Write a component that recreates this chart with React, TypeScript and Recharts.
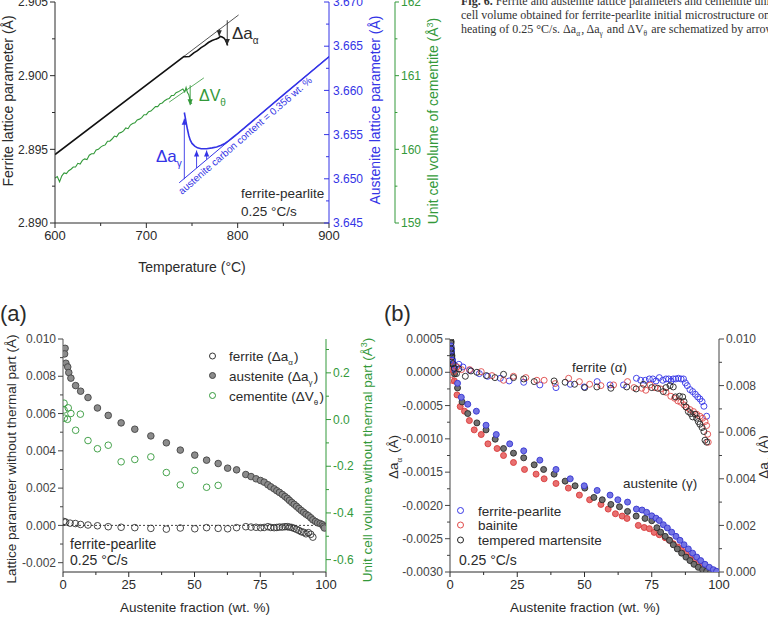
import React from "react";
import { ComposedChart, Line, Scatter, XAxis, YAxis, ReferenceLine } from "recharts";

const FONT = "Arial, 'Liberation Sans', Helvetica, sans-serif";
const INK = "#2b2b2b";
const BLUE = "#3434e6";
const GREEN = "#33993a";
const RED = "#e04a4a";

// ---------- top panel: lattice parameters vs temperature ----------
const tempTicks = [600, 650, 700, 750, 800, 850, 900];
const tempMajor = [600, 700, 800, 900];
const ferTicks = [2.89, 2.8925, 2.895, 2.8975, 2.9, 2.9025, 2.905];
const ferMajor = [2.89, 2.895, 2.9, 2.905];
const ausTicks = [3.645, 3.6475, 3.65, 3.6525, 3.655, 3.6575, 3.66, 3.6625, 3.665, 3.6675, 3.67];
const ausMajor = [3.645, 3.65, 3.655, 3.66, 3.665, 3.67];
const cemTicks = [159, 159.5, 160, 160.5, 161, 161.5, 162];
const cemMajor = [159, 160, 161, 162];

// ferrite lattice parameter (A)
const ferriteT = [600, 741, 743, 747, 749, 752, 756, 760, 764, 768, 772, 776, 779, 781, 783, 785, 786.5, 788, 789];
const ferriteA = [2.89465, 2.9013, 2.90128, 2.9013, 2.9014, 2.90155, 2.9017, 2.9019, 2.90205, 2.90225, 2.90238, 2.90248, 2.90255, 2.90266, 2.90262, 2.90255, 2.90243, 2.90222, 2.90204];
const ferriteTanT = [741, 801];
const ferriteTanA = [2.9013, 2.90412];

// austenite lattice parameter (A)
const austT = [741.6, 742.5, 743.5, 745, 746.5, 748, 750, 753, 756, 760, 766, 772, 777, 782, 786, 790, 795, 800, 850, 900];
const austA = [3.6575, 3.657, 3.6564, 3.6556, 3.6549, 3.6544, 3.654, 3.6537, 3.6535, 3.6534, 3.6534, 3.6535, 3.6536, 3.6538, 3.654, 3.6543, 3.6547, 3.6551, 3.6595, 3.6638];
const austRefT = [736, 900];
const austRefA = [3.64955, 3.66384];

// cementite unit cell volume (A^3)
const cemT = [600, 602.5, 605, 607.5, 610, 612.5, 615, 617.5, 620, 622.5, 625, 627.5, 630, 632.5, 635, 637.5, 640, 642.5, 645, 647.5, 650, 652.5, 655, 657.5, 660, 662.5, 665, 667.5, 670, 672.5, 675, 677.5, 680, 682.5, 685, 687.5, 690, 692.5, 695, 697.5, 700, 702.5, 705, 707.5, 710, 712.5, 715, 717.5, 720, 722.5, 725, 727.5, 730, 732.5, 735, 737.5, 740, 742, 743.5, 745, 746.5, 748, 749, 750];
const cemV = [159.61, 159.63, 159.56, 159.64, 159.68, 159.67, 159.71, 159.73, 159.76, 159.76, 159.81, 159.8, 159.85, 159.87, 159.86, 159.92, 159.94, 159.94, 159.99, 160.0, 160.03, 160.05, 160.06, 160.11, 160.11, 160.14, 160.18, 160.17, 160.22, 160.23, 160.25, 160.29, 160.28, 160.33, 160.35, 160.36, 160.4, 160.41, 160.43, 160.47, 160.47, 160.51, 160.52, 160.55, 160.58, 160.58, 160.62, 160.63, 160.66, 160.68, 160.69, 160.73, 160.73, 160.77, 160.78, 160.8, 160.82, 160.78, 160.84, 160.77, 160.74, 160.66, 160.63, 160.62];
const cemTanT = [725, 763];
const cemTanV = [160.64, 160.97];

// arrows (temperature, from, to)
const ferArrowT = [779.8, 788.6];
const ferArrowFrom = [2.90318, 2.90376];
const ferArrowTo = [2.90268, 2.90208];
const ausArrowT = [741.6, 755, 766];
const ausArrowFrom = [3.64996, 3.65122, 3.65218];
const ausArrowTo = [3.6568, 3.6532, 3.6532];
const cemArrowT = [748];
const cemArrowFrom = [160.87];
const cemArrowTo = [160.6];

// ---------- (a) ----------
const fracTicks = [0, 12.5, 25, 37.5, 50, 62.5, 75, 87.5, 100];
const fracMajor = [0, 25, 50, 75, 100];
const latTicks = [-0.002, -0.001, 0, 0.001, 0.002, 0.003, 0.004, 0.005, 0.006, 0.007, 0.008, 0.009, 0.01];
const latMajor = [-0.002, 0, 0.002, 0.004, 0.006, 0.008, 0.01];
const volTicks = [-0.6, -0.5, -0.4, -0.3, -0.2, -0.1, 0, 0.1, 0.2, 0.3];
const volMajor = [-0.6, -0.4, -0.2, 0, 0.2];

const aFerX = [0.3, 1, 2.7, 4.7, 6.7, 9.5, 13.1, 17.2, 22.1, 27.3, 33.4, 39.3, 44.6, 50.1, 54.6, 59, 62.6, 66, 69.5, 71.5, 73.4, 75.1, 76.5, 77.9, 79, 80.3, 81.3, 82.3, 83.4, 84.4, 85.3, 86.1, 87, 87.9, 88.8, 89.7, 90.6, 91.5, 92.4, 93.3, 94.2, 95, 99];
const aFerY = [0.00021, 0.00018, 0.00012, 0.0001, 0.00005, 0.00002, -0.00002, -0.00007, -0.0001, -0.00012, -0.00016, -0.0002, -0.00014, -0.00018, -0.00012, -0.00016, -0.00018, -0.00012, -0.00007, -0.00009, -0.0001, -0.00012, -0.00011, -0.00007, -0.00011, -0.00012, -0.00011, -0.00009, -0.00009, -0.00007, -0.00007, -0.00009, -0.00011, -0.00016, -0.00021, -0.00027, -0.00034, -0.00037, -0.00045, -0.00039, -0.00048, -0.00063, -0.00002];
const aAusX = [0.8, 0.6, 1.1, 1.8, 2.2, 3, 4.8, 6.7, 9.5, 13.1, 17.2, 22.1, 27.3, 33.4, 39.3, 44.6, 50.1, 54.6, 59, 62.6, 66, 69.5, 71.5, 73.4, 75.1, 76.5, 77.9, 79, 80.3, 81.3, 82.3, 83.4, 84.4, 85.3, 86.1, 87, 87.9, 88.8, 89.7, 90.6, 91.5, 92.4, 93.3, 94.2, 95, 96, 96.8, 97.8, 98.6, 99.1, 99.4];
const aAusY = [0.0095, 0.0092, 0.0087, 0.0085, 0.0082, 0.0079, 0.0075, 0.0072, 0.00686, 0.0063, 0.0059, 0.0055, 0.00516, 0.0048, 0.00443, 0.00404, 0.00377, 0.0035, 0.00332, 0.00307, 0.00298, 0.00273, 0.00262, 0.0025, 0.00241, 0.00232, 0.00218, 0.00207, 0.00196, 0.00186, 0.00177, 0.00166, 0.00155, 0.00145, 0.00134, 0.00123, 0.00113, 0.00102, 0.00091, 0.0008, 0.0007, 0.0006, 0.00052, 0.00041, 0.0003, 0.00021, 0.00014, 0.0001, 0.00004, -0.00005, -0.00014];
const aCemX = [0.4, 0.4, 0.5, 1.7, 2, 3, 4.8, 6.6, 9.5, 13.1, 17.2, 22.1, 27.3, 33.4, 39.3, 44.6, 50.1, 54.6, 59];
const aCemY = [0.07, 0.041, 0.006, 0.001, 0.05, 0.026, -0.046, 0.023, -0.09, -0.125, -0.11, -0.181, -0.171, -0.16, -0.227, -0.28, -0.218, -0.29, -0.282];

// ---------- (b) ----------
const daTicks = [-0.003, -0.00275, -0.0025, -0.00225, -0.002, -0.00175, -0.0015, -0.00125, -0.001, -0.00075, -0.0005, -0.00025, 0, 0.00025, 0.0005];
const daMajor = [-0.003, -0.0025, -0.002, -0.0015, -0.001, -0.0005, 0, 0.0005];
const dgTicks = [0, 0.001, 0.002, 0.003, 0.004, 0.005, 0.006, 0.007, 0.008, 0.009, 0.01];
const dgMajor = [0, 0.002, 0.004, 0.006, 0.008, 0.01];

const fpFerX = [0.5, 0.9, 2, 3.3, 4.8, 7.3, 10.9, 14, 18.7, 22, 27.4, 33.4, 39.4, 44.7, 49.9, 54.7, 59.5, 64.5, 69.3, 70.9, 72.6, 74.1, 75.4, 76.6, 77.8, 79.1, 80.3, 81.3, 82.2, 83, 83.9, 84.9, 85.9, 86.8, 87.5, 88.2, 89.2, 90.2, 91.2, 92.1, 92.9, 93.7, 94.4, 95.4];
const fpFerY = [0.00031, 0.00018, 0.0001, 0.00012, 0.00008, 0.00003, -0.00002, -0.00006, -0.00009, -0.00013, -0.00015, -0.00019, -0.00023, -0.00018, -0.00022, -0.00014, -0.00019, -0.00019, -0.00009, -0.00012, -0.00012, -0.0001, -0.0001, -0.00013, -0.00008, -0.00012, -0.0001, -0.0001, -0.00013, -0.0001, -0.0001, -0.00009, -0.0001, -0.0001, -0.00016, -0.0002, -0.00026, -0.00029, -0.00033, -0.00037, -0.0004, -0.00044, -0.00051, -0.00066];
const bnFerX = [0.2, 0.6, 1.4, 2.6, 4.3, 7.3, 11.6, 15.6, 19.9, 23.6, 28.2, 32.3, 35, 39.1, 44.1, 48.1, 51.9, 56.1, 60.8, 66, 68.4, 71.3, 72.8, 74.4, 76.2, 78.3, 80.3, 82.1, 83.5, 84.7, 85.8, 87, 88, 89.2, 90.5, 91.7, 92.9, 93.9, 94.8, 95.4, 95.8, 96];
const bnFerY = [0.00016, -0.00012, 0.00001, 0.00008, 0.00004, 0.00004, 0.00001, -0.00005, -0.00012, -0.00006, -0.00008, -0.00012, -0.00012, -0.00017, -0.00009, -0.00014, -0.00018, -0.0002, -0.00019, -0.00014, -0.00023, -0.00024, -0.00027, -0.00019, -0.00023, -0.00025, -0.0003, -0.00036, -0.00039, -0.00043, -0.00045, -0.00049, -0.00053, -0.00056, -0.00059, -0.00063, -0.00066, -0.00069, -0.00074, -0.0008, -0.00093, -0.00105];
const tmFerX = [0.4, 0.4, 0.5, 0.7, 1.1, 1.6, 2.4, 3.3, 5.7, 7.8, 10, 13.5, 16.7, 19.9, 23.6, 27.4, 31.3, 38.7, 42.8, 46.3, 50.1, 54.6, 59.8, 65.7, 69.2, 71.9, 75, 77.2, 79.3, 80.3, 81.8, 83, 83.8, 85.3, 86.5, 87, 87.7, 88.6, 89.5, 90.2, 91.1, 91.7, 92.3, 92.9, 93.7, 94.4, 94.8, 95.4];
const tmFerY = [0.00044, 0.00035, 0.00029, 0.00023, 0.00013, 0.00006, -0.00002, 0.00005, -0.00006, 0.00002, 0, -0.00005, -0.00008, -0.00003, -0.00008, -0.0001, -0.00014, -0.00013, -0.00015, -0.00018, -0.00023, -0.00022, -0.00024, -0.00022, -0.00025, -0.00018, -0.00023, -0.00024, -0.00029, -0.00023, -0.0002, -0.00022, -0.00037, -0.00036, -0.00037, -0.00044, -0.00052, -0.00059, -0.00062, -0.00067, -0.00063, -0.00069, -0.00074, -0.00078, -0.00083, -0.00089, -0.00102, -0.00105];

const fpAusX = [0.4, 0.5, 0.9, 1.6, 2.8, 4.2, 6.6, 9.8, 13.4, 17.2, 22.2, 27.4, 33.4, 39.4, 44.7, 49.9, 54.7, 59.5, 62.4, 66, 69.3, 71.4, 73.1, 75, 76.6, 77.8, 79.3, 80.8, 82.4, 84, 85.5, 87, 88.6, 90.2, 91.7, 93.2, 94.8, 96.4, 97.9, 99.1];
const fpAusY = [0.0097, 0.0095, 0.0091, 0.0087, 0.0081, 0.0075, 0.0072, 0.0069, 0.0063, 0.0059, 0.0055, 0.0052, 0.0048, 0.0044, 0.004, 0.0037, 0.0035, 0.0033, 0.0031, 0.003, 0.0027, 0.00266, 0.00256, 0.00241, 0.00231, 0.00221, 0.00203, 0.00189, 0.00171, 0.00153, 0.00136, 0.00117, 0.00099, 0.00081, 0.00064, 0.00049, 0.00033, 0.0002, 0.0001, 0.00003];
const bnAusX = [0.2, 0.5, 1.6, 2.6, 3.8, 5.4, 7.2, 9, 11.6, 14.1, 17.5, 19.9, 23.6, 27.7, 32, 35, 39.4, 44, 48.1, 51.9, 56.1, 58.8, 61.5, 64, 65.8, 70, 72.2, 74.1, 75.9, 77.8, 80, 81.6, 83, 84.7, 86.1, 87.7, 89.2, 90.7, 92.3, 93.9, 95.4, 96.9, 98.5];
const bnAusY = [0.0095, 0.0087, 0.0082, 0.0076, 0.0071, 0.0069, 0.0065, 0.0061, 0.0059, 0.0055, 0.0053, 0.005, 0.0047, 0.0044, 0.0042, 0.004, 0.0038, 0.0036, 0.0033, 0.0031, 0.0029, 0.0027, 0.0025, 0.0024, 0.0023, 0.002, 0.00191, 0.00186, 0.0017, 0.0016, 0.00147, 0.00136, 0.00121, 0.00107, 0.00093, 0.00079, 0.00064, 0.0005, 0.00037, 0.00026, 0.00016, 0.0001, 0.00004];
const tmAusX = [0.4, 0.5, 0.7, 1.1, 1.7, 2.8, 4.5, 6.6, 10, 13.4, 16.8, 19.9, 23.6, 27.4, 31.3, 34.8, 38.7, 42.8, 46.5, 50.1, 53.5, 56.6, 59.8, 63, 66, 69.2, 72.5, 75, 76.9, 78.3, 80, 81.6, 83, 84.5, 86.1, 87.7, 89.2, 90.7, 92.3, 93.9, 95.4, 96.9];
const tmAusY = [0.0099, 0.0096, 0.0093, 0.0089, 0.0085, 0.0079, 0.0073, 0.0068, 0.0064, 0.0061, 0.0057, 0.0053, 0.0051, 0.0049, 0.0046, 0.0044, 0.0042, 0.0039, 0.0037, 0.0036, 0.0032, 0.0031, 0.0029, 0.0028, 0.0026, 0.0024, 0.0023, 0.0022, 0.0019, 0.00171, 0.00153, 0.00136, 0.00117, 0.00099, 0.00081, 0.00064, 0.00049, 0.00033, 0.0002, 0.0001, 0.00003, 0];

const zip = (xs: number[], ys: number[]) => xs.map((x, i) => ({ x, y: ys[i] }));

type Side = "left" | "right" | "bottom" | "top";

// tick lines are drawn here so that minor ticks can be shorter and unlabelled
function tickMaker(side: Side, major: number[], fmt: (v: number) => string, color: string, o: { len?: number; gap?: number; size?: number; inward?: boolean } = {}) {
  const { len = 5, gap = 7, size = 12, inward = false } = o;
  return (p: any) => {
    const v = Number(p.payload?.value);
    const isMajor = major.some((m) => Math.abs(m - v) < 1e-9);
    const l = isMajor ? len : len * 0.6;
    const s = inward ? -1 : 1;
    const { x, y } = p;
    const tp = { fill: color, fontSize: size, fontFamily: FONT };
    if (side === "left")
      return (
        <g>
          <line x1={x} y1={y} x2={x - s * l} y2={y} stroke={color} />
          {isMajor && <text {...tp} x={x - gap} y={y} dy="0.35em" textAnchor="end">{fmt(v)}</text>}
        </g>
      );
    if (side === "right")
      return (
        <g>
          <line x1={x} y1={y} x2={x + s * l} y2={y} stroke={color} />
          {isMajor && <text {...tp} x={x + gap} y={y} dy="0.35em" textAnchor="start">{fmt(v)}</text>}
        </g>
      );
    if (side === "bottom")
      return (
        <g>
          <line x1={x} y1={y} x2={x} y2={y + s * l} stroke={color} />
          {isMajor && <text {...tp} x={x} y={y + gap + size * 0.8} textAnchor="middle">{fmt(v)}</text>}
        </g>
      );
    return (
      <g>
        <line x1={x} y1={y} x2={x} y2={y - s * l} stroke={color} />
      </g>
    );
  };
}

function ring(stroke: string, fill: string, r: number) {
  return (p: any) => <circle cx={p.cx} cy={p.cy} r={r} stroke={stroke} strokeWidth={0.9} fill={fill} />;
}

function arrowDot(color: string, up: boolean) {
  return (p: any) => {
    if (p.index !== 1) return <g key={`n${p.index}`} />;
    const h = 6;
    const w = 2.6;
    const b = up ? p.cy + h : p.cy - h;
    return <path key={`t${p.index}`} d={`M${p.cx},${p.cy}L${p.cx - w},${b}L${p.cx + w},${b}Z`} fill={color} />;
  };
}

const axisBase = { type: "number" as const, allowDataOverflow: true, interval: 0 as const, tickSize: 0, tickMargin: 0, tickLine: false };

function TopPanel() {
  const arrows = (ts: number[], from: number[], to: number[], axis: string, color: string, up: boolean) =>
    ts.map((t, i) => (
      <Line key={`${axis}${i}`} yAxisId={axis} data={zip([t, t], [from[i], to[i]])} dataKey="y" stroke={color} strokeWidth={0.9} dot={arrowDot(color, up)} isAnimationActive={false} />
    ));
  return (
    <ComposedChart width={440} height={280} margin={{ top: 2, right: 0, bottom: 0, left: 0 }}>
      <XAxis {...axisBase} dataKey="x" domain={[600, 900]} ticks={tempTicks} height={57} axisLine={{ stroke: INK }} tick={tickMaker("bottom", tempMajor, (v) => String(v), INK, { size: 13 })} />
      <XAxis {...axisBase} xAxisId="top" orientation="top" domain={[600, 900]} ticks={tempTicks} height={0} axisLine={{ stroke: INK }} tick={tickMaker("top", tempMajor, String, INK, { inward: true })} />
      <YAxis {...axisBase} yAxisId="fer" dataKey="y" domain={[2.89, 2.905]} ticks={ferTicks} width={55} axisLine={{ stroke: INK }} tick={tickMaker("left", ferMajor, (v) => v.toFixed(3), INK)} />
      <YAxis {...axisBase} yAxisId="aus" dataKey="y" orientation="right" domain={[3.645, 3.67]} ticks={ausTicks} width={66} axisLine={{ stroke: BLUE }} tick={tickMaker("right", ausMajor, (v) => v.toFixed(3), BLUE, { gap: 4, inward: true })} />
      <YAxis {...axisBase} yAxisId="cem" dataKey="y" orientation="right" domain={[159, 162]} ticks={cemTicks} width={45} axisLine={{ stroke: GREEN }} tick={tickMaker("right", cemMajor, (v) => v.toFixed(0), GREEN, { gap: 6, len: 4 })} />

      <Line yAxisId="cem" data={zip(cemT, cemV)} dataKey="y" stroke={GREEN} strokeWidth={1.1} dot={false} isAnimationActive={false} />
      <Line yAxisId="cem" data={zip(cemTanT, cemTanV)} dataKey="y" stroke={GREEN} strokeWidth={0.8} dot={false} isAnimationActive={false} />
      <Line yAxisId="fer" data={zip(ferriteTanT, ferriteTanA)} dataKey="y" stroke={INK} strokeWidth={0.8} dot={false} isAnimationActive={false} />
      <Line yAxisId="fer" data={zip(ferriteT, ferriteA)} dataKey="y" stroke="#111" strokeWidth={1.6} dot={false} isAnimationActive={false} />
      <Line yAxisId="aus" data={zip(austRefT, austRefA)} dataKey="y" stroke={BLUE} strokeWidth={1} dot={false} isAnimationActive={false} />
      <Line yAxisId="aus" data={zip(austT, austA)} dataKey="y" stroke={BLUE} strokeWidth={1.6} dot={false} isAnimationActive={false} />
      {arrows(ferArrowT, ferArrowFrom, ferArrowTo, "fer", INK, false)}
      {arrows(ausArrowT, ausArrowFrom, ausArrowTo, "aus", BLUE, true)}
      {arrows(cemArrowT, cemArrowFrom, cemArrowTo, "cem", GREEN, false)}
    </ComposedChart>
  );
}

function PanelA() {
  return (
    <ComposedChart width={390} height={287} margin={{ top: 9, right: 0, bottom: 0, left: 0 }}>
      <XAxis {...axisBase} dataKey="x" domain={[0, 100]} ticks={fracTicks} height={45} axisLine={{ stroke: INK }} tick={tickMaker("bottom", fracMajor, String, INK, { size: 13 })} />
      <XAxis {...axisBase} xAxisId="top" orientation="top" domain={[0, 100]} ticks={fracTicks} height={0} axisLine={{ stroke: "#777" }} tick={tickMaker("top", fracMajor, String, "#777", { inward: true })} />
      <YAxis {...axisBase} yAxisId="lat" dataKey="y" domain={[-0.0025, 0.01]} ticks={latTicks} width={63} axisLine={{ stroke: "#555" }} tick={tickMaker("left", latMajor, (v) => v.toFixed(3), "#444")} />
      <YAxis {...axisBase} yAxisId="vol" dataKey="y" orientation="right" domain={[-0.653, 0.345]} ticks={volTicks} width={64} axisLine={{ stroke: GREEN }} tick={tickMaker("right", volMajor, (v) => v.toFixed(1), GREEN)} />
      <ReferenceLine yAxisId="lat" y={0} stroke="#444" strokeDasharray="2 2" />
      <Scatter yAxisId="vol" data={zip(aCemX, aCemY)} dataKey="y" shape={ring(GREEN, "none", 3.3)} isAnimationActive={false} />
      <Scatter yAxisId="lat" data={zip(aFerX, aFerY)} dataKey="y" shape={ring("#333", "none", 3.3)} isAnimationActive={false} />
      <Scatter yAxisId="lat" data={zip(aAusX, aAusY)} dataKey="y" shape={ring("#444", "#8c8c8c", 3.3)} isAnimationActive={false} />
    </ComposedChart>
  );
}

function PanelB() {
  return (
    <ComposedChart width={388} height={287} margin={{ top: 9, right: 0, bottom: 0, left: 0 }}>
      <XAxis {...axisBase} dataKey="x" domain={[0, 100]} ticks={fracTicks} height={45} axisLine={{ stroke: INK }} tick={tickMaker("bottom", fracMajor, String, INK, { size: 13 })} />
      <XAxis {...axisBase} xAxisId="top" orientation="top" domain={[0, 100]} ticks={fracTicks} height={0} axisLine={{ stroke: "#555" }} tick={tickMaker("top", fracMajor, String, "#555", { inward: true })} />
      <YAxis {...axisBase} yAxisId="da" dataKey="y" domain={[-0.003, 0.0005]} ticks={daTicks} width={70} axisLine={{ stroke: "#444" }} tick={tickMaker("left", daMajor, (v) => v.toFixed(4), "#444")} />
      <YAxis {...axisBase} yAxisId="dg" dataKey="y" orientation="right" domain={[0, 0.01]} ticks={dgTicks} width={49} axisLine={{ stroke: "#444" }} tick={tickMaker("right", dgMajor, (v) => v.toFixed(3), "#444")} />
      <Scatter yAxisId="dg" data={zip(bnAusX, bnAusY)} dataKey="y" shape={ring("#d83a3a", "#e87070", 3)} isAnimationActive={false} />
      <Scatter yAxisId="dg" data={zip(tmAusX, tmAusY)} dataKey="y" shape={ring("#2a2a2a", "#707070", 3)} isAnimationActive={false} />
      <Scatter yAxisId="dg" data={zip(fpAusX, fpAusY)} dataKey="y" shape={ring("#3535d0", "#7474e4", 3)} isAnimationActive={false} />
      <Scatter yAxisId="da" data={zip(fpFerX, fpFerY)} dataKey="y" shape={ring(BLUE, "none", 3)} isAnimationActive={false} />
      <Scatter yAxisId="da" data={zip(bnFerX, bnFerY)} dataKey="y" shape={ring(RED, "none", 3)} isAnimationActive={false} />
      <Scatter yAxisId="da" data={zip(tmFerX, tmFerY)} dataKey="y" shape={ring("#222", "none", 3)} isAnimationActive={false} />
    </ComposedChart>
  );
}

const sub = (c: string, size = 9, d = 4) => [
  <tspan key="s" dy={d} fontSize={size}>{c}</tspan>,
  <tspan key="r" dy={-d}>{"\u200a"}</tspan>,
];

function Overlay() {
  const t = { fontFamily: FONT, fill: INK };
  const rot = (x: number, y: number) => `rotate(-90, ${x}, ${y})`;
  return (
    <svg width={768} height={617} style={{ position: "absolute", left: 0, top: 0, pointerEvents: "none" }}>
      {/* caption */}
      <g fontFamily="'Liberation Serif', 'DejaVu Serif', serif" fontSize={12} fill="#333">
        <text x={461} y={5}><tspan fontWeight="bold">Fig. 6.</tspan>  Ferrite and austenite lattice parameters and cementite unit</text>
        <text x={461} y={19}>cell volume obtained for ferrite-pearlite initial microstructure on</text>
        <text x={461} y={33}>heating of 0.25 °C/s. Δa{sub("α", 7.5, 3)}, Δa{sub("γ", 7.5, 3)} and ΔV{sub("θ", 7.5, 3)} are schematized by arrows.</text>
      </g>

      {/* top panel */}
      <text {...t} fontSize={14} x={13} y={101} textAnchor="middle" transform={rot(13, 101)}>Ferrite lattice parameter (Å)</text>
      <text {...t} fontSize={14} x={192} y={272} textAnchor="middle">Temperature (°C)</text>
      <text {...t} fill={BLUE} fontSize={14} x={380} y={110} textAnchor="middle" transform={rot(380, 110)}>Austenite lattice parameter (Å)</text>
      <text {...t} fill={GREEN} fontSize={14} x={438} y={121} textAnchor="middle" transform={rot(438, 121)}>
        Unit cell volume of cementite (Å<tspan dy={-5} fontSize={9}>3</tspan><tspan dy={5}>)</tspan>
      </text>
      <text {...t} fontSize={17} x={232} y={39}>Δa{sub("α", 10, 5)}</text>
      <text {...t} fill={GREEN} fontSize={16} x={199} y={101}>ΔV{sub("θ", 10, 5)}</text>
      <text {...t} fill={BLUE} fontSize={17} x={156} y={162}>Δa{sub("γ", 10, 5)}</text>
      <text {...t} fill={BLUE} fontSize={10} x={182} y={195} transform="rotate(-41, 182, 195)">austenite carbon content = 0.356 wt. %</text>
      <text {...t} fontSize={13.5} x={241} y={198}>ferrite-pearlite</text>
      <text {...t} fontSize={13.5} x={241} y={216}>0.25 °C/s</text>

      {/* (a) */}
      <text {...t} fontSize={22} x={0} y={321}>(a)</text>
      <text {...t} fontSize={13.5} x={16} y={459} textAnchor="middle" transform={rot(16, 459)}>Lattice parameter without thermal part (Å)</text>
      <text {...t} fill={GREEN} fontSize={13.5} x={372} y={460} textAnchor="middle" transform={rot(372, 460)}>
        Unit cell volume without thermal part (Å<tspan dy={-5} fontSize={9}>3</tspan><tspan dy={5}>)</tspan>
      </text>
      <text {...t} fontSize={13.5} x={195} y={612} textAnchor="middle">Austenite fraction (wt. %)</text>
      <circle cx={212.5} cy={356} r={3} fill="none" stroke="#333" />
      <circle cx={212.5} cy={375.5} r={3} fill="#8c8c8c" stroke="#444" />
      <circle cx={212.5} cy={395.5} r={3} fill="none" stroke={GREEN} />
      <text {...t} fontSize={13.5} x={229} y={361}>ferrite (Δa{sub("α", 8, 4)})</text>
      <text {...t} fontSize={13.5} x={229} y={380.5}>austenite (Δa{sub("γ", 8, 4)})</text>
      <text {...t} fontSize={13.5} x={229} y={400.5}>cementite (ΔV{sub("θ", 8, 4)})</text>
      <text {...t} fontSize={14} x={70} y={549}>ferrite-pearlite</text>
      <text {...t} fontSize={14} x={70} y={565}>0.25 °C/s</text>

      {/* (b) */}
      <text {...t} fontSize={22} x={384} y={321}>(b)</text>
      <text {...t} fontSize={13.5} x={398} y={457} textAnchor="middle" transform={rot(398, 457)}>Δa{sub("α", 8, 4)} (Å)</text>
      <text {...t} fontSize={13.5} x={768} y={457} textAnchor="middle" transform={rot(768, 457)}>Δa{sub("γ", 8, 4)} (Å)</text>
      <text {...t} fontSize={13.5} x={585} y={612} textAnchor="middle">Austenite fraction (wt. %)</text>
      <text {...t} fontSize={13.5} x={572} y={372}>ferrite (α)</text>
      <text {...t} fontSize={13.5} x={623} y={488}>austenite (γ)</text>
      <circle cx={460.5} cy={510.5} r={3} fill="none" stroke={BLUE} />
      <circle cx={460.5} cy={525} r={3} fill="none" stroke={RED} />
      <circle cx={460.5} cy={540} r={3} fill="none" stroke="#222" />
      <text {...t} fontSize={13.5} x={478} y={515.5}>ferrite-pearlite</text>
      <text {...t} fontSize={13.5} x={478} y={530}>bainite</text>
      <text {...t} fontSize={13.5} x={478} y={545}>tempered martensite</text>
      <text {...t} fontSize={14} x={459} y={565}>0.25 °C/s</text>
    </svg>
  );
}

export default function App() {
  return (
    <div style={{ position: "absolute", left: 0, top: 0, width: 768, height: 617, overflow: "hidden", background: "#fff", fontFamily: FONT }}>
      <div style={{ position: "absolute", left: 0, top: 0 }}>
        <TopPanel />
      </div>
      <div style={{ position: "absolute", left: 0, top: 330 }}>
        <PanelA />
      </div>
      <div style={{ position: "absolute", left: 380, top: 330 }}>
        <PanelB />
      </div>
      <Overlay />
    </div>
  );
}
